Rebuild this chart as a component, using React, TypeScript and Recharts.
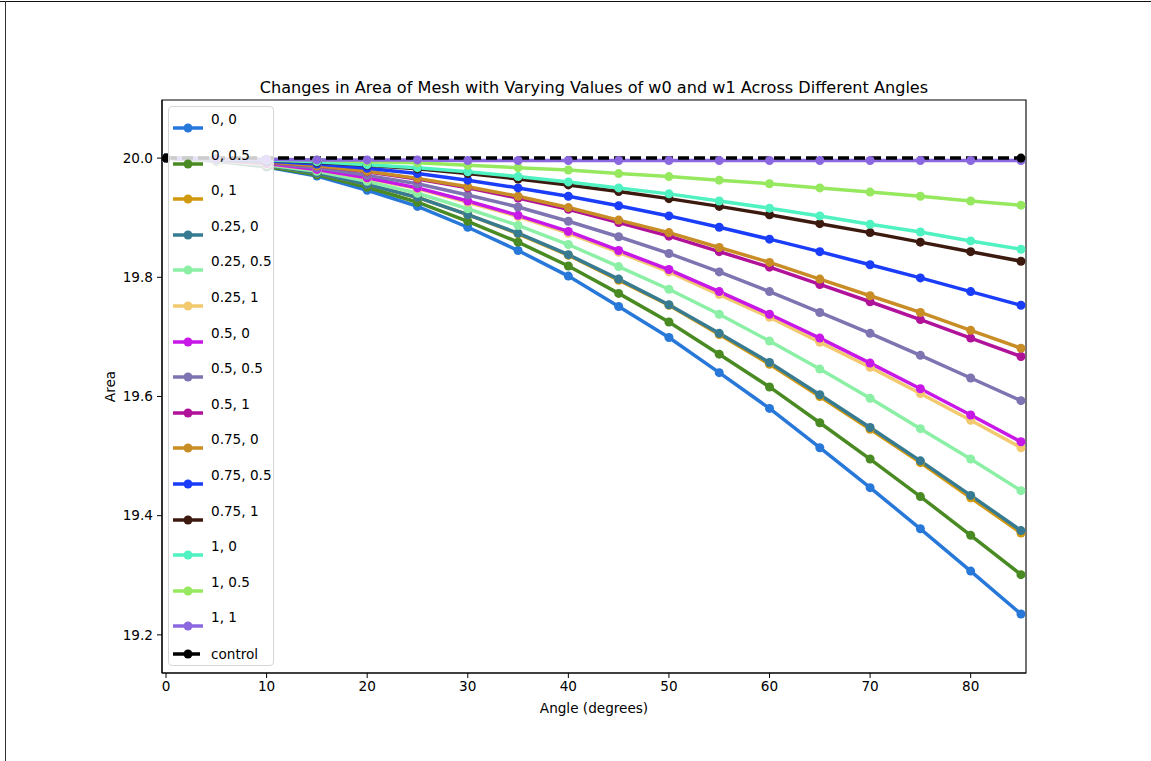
import React from 'react'
import { LineChart, Line, XAxis, YAxis, ReferenceArea } from 'recharts'

// x positions (degrees)
const ANGLES = [0, 5, 10, 15, 20, 25, 30, 35, 40, 45, 50, 55, 60, 65, 70, 75, 80, 85]

// area per (w0, w1) setting
const AREA_0_0 = [20.0, 19.995, 19.985, 19.97, 19.946, 19.919, 19.884, 19.845, 19.802, 19.751, 19.699, 19.64, 19.58, 19.514, 19.447, 19.378, 19.307, 19.235]
const AREA_0_05 = [20.0, 19.995, 19.986, 19.972, 19.951, 19.926, 19.894, 19.859, 19.819, 19.773, 19.725, 19.671, 19.616, 19.556, 19.495, 19.432, 19.367, 19.301]
const AREA_0_1 = [20.0, 19.996, 19.988, 19.975, 19.956, 19.934, 19.905, 19.873, 19.837, 19.795, 19.753, 19.704, 19.654, 19.6, 19.545, 19.489, 19.43, 19.371]
const AREA_025_0 = [20.0, 19.996, 19.988, 19.975, 19.956, 19.934, 19.905, 19.874, 19.838, 19.797, 19.754, 19.706, 19.657, 19.603, 19.548, 19.492, 19.434, 19.375]
const AREA_025_05 = [20.0, 19.996, 19.989, 19.978, 19.961, 19.941, 19.915, 19.887, 19.855, 19.818, 19.78, 19.738, 19.693, 19.646, 19.597, 19.546, 19.495, 19.442]
const AREA_025_1 = [20.0, 19.997, 19.99, 19.981, 19.966, 19.949, 19.926, 19.902, 19.874, 19.842, 19.809, 19.771, 19.733, 19.691, 19.649, 19.605, 19.56, 19.514]
const AREA_05_0 = [20.0, 19.997, 19.991, 19.981, 19.967, 19.95, 19.928, 19.904, 19.877, 19.845, 19.813, 19.776, 19.738, 19.698, 19.656, 19.613, 19.569, 19.524]
const AREA_05_05 = [20.0, 19.997, 19.992, 19.984, 19.971, 19.957, 19.938, 19.918, 19.894, 19.868, 19.84, 19.809, 19.776, 19.741, 19.706, 19.669, 19.631, 19.593]
const AREA_05_1 = [20.0, 19.998, 19.993, 19.987, 19.977, 19.965, 19.95, 19.933, 19.914, 19.892, 19.869, 19.843, 19.817, 19.788, 19.759, 19.729, 19.698, 19.667]
const AREA_075_0 = [20.0, 19.998, 19.994, 19.987, 19.978, 19.966, 19.952, 19.936, 19.917, 19.896, 19.875, 19.85, 19.825, 19.797, 19.769, 19.741, 19.711, 19.681]
const AREA_075_05 = [20.0, 19.998, 19.995, 19.99, 19.983, 19.974, 19.963, 19.95, 19.936, 19.92, 19.903, 19.884, 19.864, 19.843, 19.821, 19.799, 19.776, 19.753]
const AREA_075_1 = [20.0, 19.999, 19.997, 19.993, 19.988, 19.982, 19.974, 19.965, 19.955, 19.944, 19.932, 19.919, 19.905, 19.89, 19.875, 19.859, 19.843, 19.827]
const AREA_1_0 = [20.0, 19.999, 19.997, 19.994, 19.989, 19.984, 19.977, 19.969, 19.96, 19.95, 19.94, 19.928, 19.916, 19.903, 19.889, 19.876, 19.861, 19.847]
const AREA_1_05 = [20.0, 19.999, 19.998, 19.997, 19.994, 19.992, 19.988, 19.984, 19.98, 19.974, 19.969, 19.963, 19.957, 19.95, 19.943, 19.936, 19.928, 19.921]
const AREA_1_1 = [20.0, 19.999, 19.998, 19.997, 19.997, 19.997, 19.996, 19.996, 19.996, 19.996, 19.996, 19.996, 19.996, 19.996, 19.996, 19.996, 19.996, 19.996]

// control only has its two end points
const CONTROL_ANGLES = [0, 85]
const CONTROL_AREA = [20.0, 20.0]

const X_TICKS = [0, 10, 20, 30, 40, 50, 60, 70, 80]
const Y_TICKS = [19.2, 19.4, 19.6, 19.8, 20.0]

const SERIES = [
  { key: 's0', name: '0, 0', color: '#2778d8', values: AREA_0_0 },
  { key: 's1', name: '0, 0.5', color: '#4a8a23', values: AREA_0_05 },
  { key: 's2', name: '0, 1', color: '#d0990f', values: AREA_0_1 },
  { key: 's3', name: '0.25, 0', color: '#377b92', values: AREA_025_0 },
  { key: 's4', name: '0.25, 0.5', color: '#8bf0a5', values: AREA_025_05 },
  { key: 's5', name: '0.25, 1', color: '#f2c96e', values: AREA_025_1 },
  { key: 's6', name: '0.5, 0', color: '#c718e8', values: AREA_05_0 },
  { key: 's7', name: '0.5, 0.5', color: '#7e74b2', values: AREA_05_05 },
  { key: 's8', name: '0.5, 1', color: '#b0129a', values: AREA_05_1 },
  { key: 's9', name: '0.75, 0', color: '#c98d26', values: AREA_075_0 },
  { key: 's10', name: '0.75, 0.5', color: '#1a3dfa', values: AREA_075_05 },
  { key: 's11', name: '0.75, 1', color: '#3d1a0f', values: AREA_075_1 },
  { key: 's12', name: '1, 0', color: '#4ff2c0', values: AREA_1_0 },
  { key: 's13', name: '1, 0.5', color: '#96e85f', values: AREA_1_05 },
  { key: 's14', name: '1, 1', color: '#8c68e0', values: AREA_1_1 },
]

const FONT = '"DejaVu Sans", sans-serif'
const TICK_FONT = 13.6
const X_DOMAIN: [number, number] = [-0.4, 85.5]
const Y_DOMAIN: [number, number] = [19.136, 20.0975]

// one row per angle for recharts
const rows = ANGLES.map((angle, i) => {
  const row: Record<string, number | null> = { angle }
  SERIES.forEach((s) => {
    row[s.key] = s.values[i]
  })
  const c = CONTROL_ANGLES.indexOf(angle)
  row.control = c >= 0 ? CONTROL_AREA[c] : null
  return row
})

// matplotlib-style legend box in the upper left of the axes
function ChartLegend() {
  const entries = [...SERIES.map((s) => ({ name: s.name, color: s.color, dashed: false })), { name: 'control', color: '#000', dashed: true }]
  return (
    <div
      style={{
        position: 'absolute',
        left: 168,
        top: 106,
        width: 106,
        height: 560,
        boxSizing: 'border-box',
        border: '1px solid #d6d6d6',
        borderRadius: 4,
        background: 'rgba(255,255,255,0.8)',
        fontFamily: FONT,
        fontSize: TICK_FONT,
      }}
    >
      {entries.map((e, i) => {
        const lineY = e.dashed ? 547 : 21 + i * 35.6
        const textY = e.dashed ? lineY : lineY - 9
        return (
          <React.Fragment key={e.name}>
            <svg style={{ position: 'absolute', left: 3, top: lineY - 6 }} width={32} height={12}>
              <line x1={1} y1={6} x2={31} y2={6} stroke={e.color} strokeWidth={3.5} strokeDasharray={e.dashed ? '11 5' : undefined} />
              <circle cx={16} cy={6} r={4.5} fill={e.color} />
            </svg>
            <div style={{ position: 'absolute', left: 42, top: textY - 9, lineHeight: '18px', whiteSpace: 'nowrap', color: '#000' }}>
              {e.name}
            </div>
          </React.Fragment>
        )
      })}
    </div>
  )
}

export default function App() {
  return (
    <div style={{ position: 'absolute', left: 0, top: 0, width: 1151, height: 761, background: '#fff', overflow: 'hidden' }}>
      {/* frame edges from the original screenshot */}
      <div style={{ position: 'absolute', left: 0, top: 1, width: 1151, height: 0, borderTop: '1.5px solid #111' }} />
      <div style={{ position: 'absolute', left: 5, top: 1, width: 0, height: 760, borderLeft: '1.5px solid #333' }} />

      <div
        style={{
          position: 'absolute',
          left: 162,
          width: 864,
          top: 78,
          textAlign: 'center',
          fontFamily: FONT,
          fontSize: 16.1,
          lineHeight: '20px',
          color: '#000',
        }}
      >
        Changes in Area of Mesh with Varying Values of w0 and w1 Across Different Angles
      </div>

      <div style={{ position: 'absolute', left: 0, top: 0 }}>
        <LineChart width={1151} height={761} data={rows} margin={{ top: 100, right: 125, bottom: 0, left: 0 }}>
          <XAxis
            dataKey="angle"
            type="number"
            domain={X_DOMAIN}
            ticks={X_TICKS}
            allowDataOverflow
            height={88}
            tickSize={5}
            tickMargin={3}
            stroke="#000"
            tick={{ fill: '#000', fontFamily: FONT, fontSize: TICK_FONT }}
            axisLine={{ stroke: '#000', strokeWidth: 1.1 }}
            label={{ value: 'Angle (degrees)', position: 'center', dy: -9, fill: '#000', fontFamily: FONT, fontSize: TICK_FONT }}
          />
          <YAxis
            type="number"
            domain={Y_DOMAIN}
            ticks={Y_TICKS}
            allowDataOverflow
            width={162}
            tickSize={5}
            tickMargin={4}
            stroke="#000"
            tickFormatter={(v: number) => v.toFixed(1)}
            tick={{ fill: '#000', fontFamily: FONT, fontSize: TICK_FONT }}
            axisLine={{ stroke: '#000', strokeWidth: 1.1 }}
            label={{ value: 'Area', angle: -90, position: 'center', dx: 29, fill: '#000', fontFamily: FONT, fontSize: TICK_FONT }}
          />
          <ReferenceArea x1={X_DOMAIN[0]} x2={X_DOMAIN[1]} y1={Y_DOMAIN[0]} y2={Y_DOMAIN[1]} fill="none" stroke="#000" strokeWidth={1.1} ifOverflow="visible" />
          {SERIES.map((s) => (
            <Line
              key={s.key}
              dataKey={s.key}
              name={s.name}
              stroke={s.color}
              strokeWidth={3.5}
              dot={{ r: 4.5, fill: s.color, stroke: 'none' }}
              activeDot={false}
              isAnimationActive={false}
            />
          ))}
          <Line
            dataKey="control"
            name="control"
            stroke="#000"
            strokeWidth={3.5}
            strokeDasharray="11 5"
            connectNulls
            dot={{ r: 4.5, fill: '#000', stroke: 'none' }}
            activeDot={false}
            isAnimationActive={false}
          />
        </LineChart>
      </div>

      <ChartLegend />
    </div>
  )
}
